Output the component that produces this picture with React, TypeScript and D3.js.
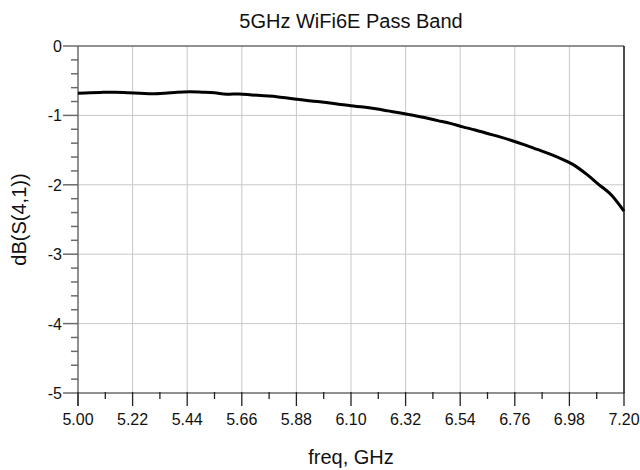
import React from "react";
import * as d3 from "d3";

const freqGHz = [
  5.0, 5.05, 5.1, 5.15, 5.2, 5.25, 5.3, 5.35, 5.4, 5.45, 5.5, 5.55, 5.6, 5.65, 5.7,
  5.75, 5.8, 5.85, 5.9, 5.95, 6.0, 6.05, 6.1, 6.15, 6.2, 6.25, 6.3, 6.35, 6.4, 6.45,
  6.5, 6.55, 6.6, 6.65, 6.7, 6.75, 6.8, 6.85, 6.9, 6.95, 7.0, 7.05, 7.1, 7.15, 7.2,
];
const dbS41 = [
  -0.68, -0.672, -0.668, -0.665, -0.672, -0.68, -0.688, -0.68, -0.665, -0.658, -0.665,
  -0.675, -0.695, -0.69, -0.705, -0.718, -0.73, -0.752, -0.775, -0.795, -0.815, -0.838,
  -0.862, -0.88, -0.905, -0.935, -0.965, -0.998, -1.035, -1.075, -1.115, -1.165, -1.21,
  -1.26, -1.31, -1.365, -1.425, -1.49, -1.555, -1.63, -1.72, -1.85, -2.0, -2.15, -2.38,
];
const xTickLabels = ["5.00", "5.22", "5.44", "5.66", "5.88", "6.10", "6.32", "6.54", "6.76", "6.98", "7.20"];
const yTickValues = [0, -1, -2, -3, -4, -5];
const titleText = "5GHz WiFi6E Pass Band";
const xLabel = "freq, GHz";
const yLabel = "dB(S(4,1))";

const W = 640;
const H = 470;
const L = 78;
const R = 624;
const T = 46;
const B = 393;
const FONT = "Liberation Sans, Arial, sans-serif";

export default function App() {
  const x = d3.scaleLinear().domain([5.0, 7.2]).range([L, R]);
  const y = d3.scaleLinear().domain([-5, 0]).range([B, T]);
  const xMajor = xTickLabels.map((s) => +s);
  const xMinor = xMajor.slice(0, -1).map((v) => v + 0.11);
  const yMinor: number[] = [];
  for (let i = 0; i < 5; i++) for (let j = 1; j < 5; j++) yMinor.push(-i - j * 0.2);
  const pts = freqGHz.map((f, i) => [f, dbS41[i]] as [number, number]);
  const line = d3
    .line<[number, number]>()
    .x((d) => x(d[0]))
    .y((d) => y(d[1]))
    .curve(d3.curveMonotoneX);
  const axisColor = "#6b6b6b";
  const gridColor = "#c8c8c8";
  return (
    <svg
      width={W}
      height={H}
      style={{ position: "absolute", left: 0, top: 0, background: "#fff" }}
      fontFamily={FONT}
    >
      <rect x={0} y={0} width={W} height={H} fill="#fff" />
      {xMajor.slice(1, -1).map((v, i) => (
        <line key={"gx" + i} x1={x(v)} x2={x(v)} y1={T} y2={B} stroke={gridColor} strokeWidth={1} />
      ))}
      {yTickValues.slice(1, -1).map((v, i) => (
        <line key={"gy" + i} x1={L} x2={R} y1={y(v)} y2={y(v)} stroke={gridColor} strokeWidth={1} />
      ))}
      <line x1={L} x2={R} y1={T} y2={T} stroke={axisColor} strokeWidth={1.5} />
      <line x1={R} x2={R} y1={T} y2={B} stroke="#111" strokeWidth={1.5} />
      <line x1={L} x2={R} y1={B} y2={B} stroke={axisColor} strokeWidth={1.5} />
      <line x1={L} x2={L} y1={T} y2={B + 13} stroke={axisColor} strokeWidth={1.5} />
      {yTickValues.map((v, i) => (
        <line key={"yt" + i} x1={L - 15} x2={L} y1={y(v)} y2={y(v)} stroke={axisColor} strokeWidth={1.5} />
      ))}
      {yMinor.map((v, i) => (
        <line key={"ym" + i} x1={L - 7} x2={L} y1={y(v)} y2={y(v)} stroke={axisColor} strokeWidth={1.5} />
      ))}
      {yTickValues.map((v, i) => (
        <text key={"yl" + i} x={L - 16} y={y(v) + 6} fontSize={16} textAnchor="end" fill="#111">
          {String(v)}
        </text>
      ))}
      {xMajor.map((v, i) => (
        <line key={"xt" + i} x1={x(v)} x2={x(v)} y1={B - 1} y2={B + 13} stroke="#222" strokeWidth={1.3} />
      ))}
      {xMinor.map((v, i) => (
        <line key={"xm" + i} x1={x(v)} x2={x(v)} y1={B - 1} y2={B + 6} stroke="#222" strokeWidth={1.3} />
      ))}
      {xTickLabels.map((s, i) => (
        <text key={"xl" + i} x={x(+s)} y={B + 32} fontSize={16} textAnchor="middle" fill="#111">
          {s}
        </text>
      ))}
      <path d={line(pts) || ""} fill="none" stroke="#000" strokeWidth={3} strokeLinejoin="round" />
      <text x={351} y={28} fontSize={20} textAnchor="middle" fill="#111">
        {titleText}
      </text>
      <text x={351} y={464} fontSize={20} textAnchor="middle" fill="#111">
        {xLabel}
      </text>
      <text
        transform={`translate(26, ${(T + B) / 2}) rotate(-90)`}
        fontSize={20}
        textAnchor="middle"
        fill="#111"
      >
        {yLabel}
      </text>
    </svg>
  );
}
